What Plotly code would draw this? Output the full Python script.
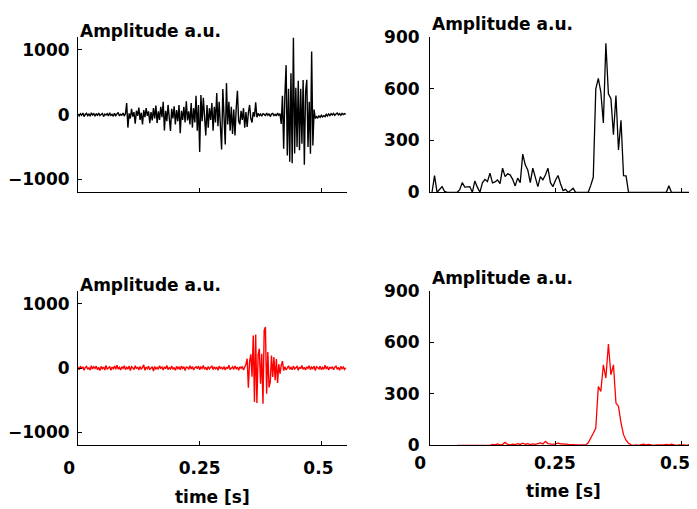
import numpy as np
import plotly.graph_objects as go

# ---------------- data ----------------
# raw traces, sampled every 2.5 ms from t = 0
raw_dt = 0.0025
raw_black = [
    10, -20, 15, -10, 25, -30, 5, 20, -15, 10, -25, 30, -5, 15, -20, 10, -10, 25, -15, 5,
    20, -30, 10, -5, 15, -20, 30, -10, 5, -25, 20, -15, 10, 35, -20, 5, -10, 25, -15, 10,
    180, -200,
    20, -60, 90, -30, 40, -140, 60, -20, 110, -80, 30, -150, 70, -40, 100, -20, 50, -130,
    40, -90, 100, -60, 140, -130, 50, -80, 120, -40, 200, -246, 60, -100, 150, -50, -253, 90, -60, 130,
    -150, 70, -100, 150, -287, 60, -80, 120, -120, 205, -90, 50, -150, 180, -200, 100, -120, 292, -250, 150,
    -577, 303, -100, 260, -150, -323, 150, -200, 100, -80, 180, -250, 120, -120, 334, -180, 200, -300, -538, 395,
    -200, -461, 487, -150, 200, -250, 120, -300, 80, -323, 100, 370, -100, -150, 60, -80, 100, -200, 40, -190,
    30, 150, -60, -120, 40, -30, 190, -40,
    20, -15, 10, -25, 15, 5, -20, 25, -10, 15, -30, 10, 20, -15, 5, -20, 25, -10, 15,
    -143, 292, -528, 300, 765, -630, 400, -728, 640, -750, 1190, -600, 415, -500, 525, -550, 400, -450, 537, -774,
    350, 540, -500, 200, -605, 975, -477, 80, -60,
    -30, -50, -20, -40, -10, -35, -15, -30, 5, -20, 10, -15, 15, -5, 20, -10, 10, 25, -5, 15,
    -10, 20, 0, 15, 5,
]
raw_red = [
    15, -25, 30, -10, 20, -35, 10, 25, -20, 5, -30, 35, -15, 20, -5, 30, -25, 10, -40, 25,
    -10, 15, -30, 40, -20, 5, 25, -35, 15, -10, 30, -20, 45, -15, 10, -30, 20, -5, 35, -25,
    10, -15, 30, -40, 20, 5, -25, 35, -10, 15, -30, 25, -20, 10, 50, -35, 15, -10, 30, -25,
    5, 20, -45, 25, -15, 10, -20, 35, -5, 15, -30, 20, -10, 40, -25, 5, -15, 30, -20, 10,
    -35, 25, -10, 15, -25, 30, -5, 20, -40, 15, 10, -20, 35, -15, 25, -30, 5, 20, -10, 30,
    -25, 15, -5, 40, -20, 10, -30, 25, -15, 5, 35, -25, 20, -10, 15, -35, 30, -5, 10, -20,
    25, -30, 15, -10, 45, -25, 5, 20, -20, 30, -10, 15, -35, 20, -5, 25,
    -30, 10, 60, 145, -305, 100, 212, -135, 507, -527, 522, -543, 200, 300, -243, 222, -553, 584, 636, -398,
    248, -300, -217, 196, -140, 170, -190, 140, -232, 60, -88, 40, 108, -40,
    20, -30, 15, 35, -20, 10, -25, 30, -15, 5, 25, -35, 15, -10, 40, -20, 10, -30, 20, -5,
    35, -25, 15, -10, 30, -40, 20, 5, -15, 30, -25, 10, -20, 45, -15, 25, -30, 10, -5, 20,
    -25, 15, 30, -20, 10, -35, 25, -10, 15, -20, 5,
]

# envelopes, sampled every 5 ms
env_dt = 0.005
env_black_t0 = 0.004
env_black = [
    0, 97, 0, 20, 33, 5, 0, 0, 0, 0, 0, 15, 56, 30, 31, 33, 0, 66, 30, 0,
    55, 75, 62, 111, 55, 60, 72, 50, 140, 91, 107, 101, 75, 37, 82, 56, 221, 159, 130, 56,
    140, 90, 33, 91, 72, 100, 140, 56, 33, 70, 97, 50, 10, 17, 0, 10, 23, 0, 0, 0,
    0, 0, 0, 40, 87, 600, 660, 580, 402, 864, 571, 542, 334, 561, 246, 417, 97, 95, 0, 0,
    0, 0, 0, 0, 0, 0, 0, 0, 0, 0, 0, 0, 0, 0, 38, 0, 0, 0, 0, 0,
    0, 0, 0, 0, 0, 0,
]
env_red_t0 = 0.054
env_red = [
    0, 0, 0, 0, 0, 0, 0, 0, 0, 0,
    2, 0, 3, 0, 5, 2, 8, 3, 6, 17,
    5, 2, 6, 4, 10, 5, 12, 6, 9, 4,
    8, 5, 10, 14, 8, 23, 10, 6, 5, 8,
    12, 9, 10, 7, 5, 6, 4, 3, 2, 2,
    3, 2, 15, 40, 70, 100, 343, 314, 469, 392,
    590, 411, 469, 246, 227, 130, 62, 30, 12, 3,
    0, 2, 0, 4, 6, 3, 5, 2, 0, 3,
    2, 0, 3, 5, 2, 6, 3, 0, 2, 4,
    2, 0, 3, 0, 2, 0,
]

time_ticks = [0, 0.25, 0.5]
time_tick_text = ["0\u00a0\u00a0\u00a0", "0.25", "0.5\u00a0"]
time_tick_text_right = ["0\u00a0", "\u00a0\u00a00.25", "0.5"]
raw_ticks = [-1000, 0, 1000]
env_ticks = [0, 300, 600, 900]
title_text = "Amplitude a.u."
xlabel_text = "time [s]"

t_raw_black = np.arange(len(raw_black)) * raw_dt
t_raw_red = np.arange(len(raw_red)) * raw_dt
t_env_black = env_black_t0 + np.arange(len(env_black)) * env_dt
t_env_red = env_red_t0 + np.arange(len(env_red)) * env_dt

# ---------------- figure ----------------
# the page body keeps the browser's default 8px margin, so the figure is
# drawn 8px in from the top-left of the 697x509 window
WIN_W, WIN_H, OFF = 697, 509, 8
W, H = WIN_W - OFF, WIN_H - OFF
FONT = dict(family="DejaVu Sans, Liberation Sans, Arial, sans-serif", size=17, color="black", weight="bold")

fig = go.Figure()
fig.add_trace(go.Scatter(x=t_raw_black, y=raw_black, mode="lines",
                         line=dict(color="black", width=1.4), xaxis="x", yaxis="y"))
fig.add_trace(go.Scatter(x=t_env_black, y=env_black, mode="lines",
                         line=dict(color="black", width=1.3), xaxis="x2", yaxis="y2"))
fig.add_trace(go.Scatter(x=t_raw_red, y=raw_red, mode="lines",
                         line=dict(color="#ff0000", width=1.4), xaxis="x3", yaxis="y3"))
fig.add_trace(go.Scatter(x=t_env_red, y=env_red, mode="lines",
                         line=dict(color="#ff0000", width=1.3), xaxis="x4", yaxis="y4"))

def px_x(a, b):
    return [(a - OFF) / W, min(1.0, (b - OFF) / W)]

def px_y(top, bottom):
    return [1 - (bottom - OFF) / H, 1 - (top - OFF) / H]

common_axis = dict(showline=True, linecolor="black", linewidth=1, showgrid=False, zeroline=False,
                   ticks="inside", ticklen=4, tickwidth=1, tickcolor="black", tickfont=FONT,
                   mirror=False, fixedrange=True, automargin=False, ticklabeloverflow="allow")

left_dom = px_x(78, 346.7)
right_dom = px_x(430, 697)
top_dom = px_y(37, 192.3)
bot_dom = px_y(290.8, 445.3)

fig.update_layout(
    width=W, height=H, autosize=False,
    margin=dict(l=0, r=0, t=0, b=0),
    paper_bgcolor="white", plot_bgcolor="white",
    showlegend=False,
    font=FONT,
    xaxis=dict(common_axis, domain=left_dom, range=[0, 0.552], tickvals=time_ticks,
               showticklabels=False, anchor="y"),
    yaxis=dict(common_axis, domain=top_dom, range=[-1200, 1200], tickvals=raw_ticks,
               anchor="x", ticklabelstandoff=4),
    xaxis2=dict(common_axis, domain=right_dom, range=[0, 0.5298], tickvals=time_ticks,
                showticklabels=False, anchor="y2"),
    yaxis2=dict(common_axis, domain=top_dom, range=[0, 900], tickvals=env_ticks,
                anchor="x2", ticklabelstandoff=6),
    xaxis3=dict(common_axis, domain=left_dom, range=[0, 0.552], tickvals=time_ticks,
                ticktext=time_tick_text, anchor="y3", ticklabelstandoff=7,
                title=dict(text=xlabel_text, font=FONT, standoff=14)),
    yaxis3=dict(common_axis, domain=bot_dom, range=[-1200, 1200], tickvals=raw_ticks,
                anchor="x3", ticklabelstandoff=4),
    xaxis4=dict(common_axis, domain=right_dom, range=[0, 0.5298], tickvals=time_ticks,
                ticktext=time_tick_text_right, anchor="y4", ticklabelstandoff=2,
                ticklabelshift=-7,
                title=dict(text=xlabel_text, font=FONT, standoff=13)),
    yaxis4=dict(common_axis, domain=bot_dom, range=[0, 900], tickvals=env_ticks,
                anchor="x4", ticklabelstandoff=6),
)

for xr, yr, shift in [("x", "y", -6), ("x2", "y2", 1), ("x3", "y3", -6), ("x4", "y4", 1)]:
    fig.add_annotation(text=title_text, xref=f"{xr} domain", yref=f"{yr} domain",
                       x=0, y=1, xanchor="left", yanchor="bottom", yshift=shift,
                       showarrow=False, font=FONT)

fig.write_html("out.html")
